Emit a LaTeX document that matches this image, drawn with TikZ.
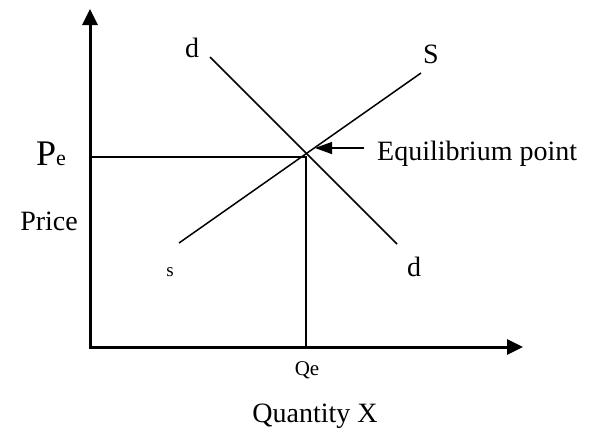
\documentclass[tikz,border=0pt]{standalone}
\usepackage{fontspec}
\setmainfont{Liberation Serif}
\usetikzlibrary{arrows.meta}
\begin{document}
\begin{tikzpicture}[x=1pt,y=-1pt,
  axis/.style={line width=3pt,-{Triangle[length=16pt,width=15pt]}},
  curve/.style={line width=1.5pt},
  guide/.style={line width=1.2pt},
  lbl/.style={inner sep=0pt,font=\fontsize{28}{30}\selectfont},
  small/.style={inner sep=0pt,font=\fontsize{19}{21}\selectfont}]
\useasboundingbox (0,0) rectangle (607,439);
% coordinates
\coordinate (O) at (90,347);
\coordinate (Ytop) at (90,9);
\coordinate (Xend) at (523,347);
\coordinate (pe1) at (91,157);
\coordinate (E) at (306,157);
\coordinate (qe1) at (306,347);
\coordinate (s1) at (179,243);
\coordinate (s2) at (421,73);
\coordinate (d1) at (210,57);
\coordinate (d2) at (397,244);
\coordinate (eqtail) at (364,148);
\coordinate (eqtip) at (315,148);
% axes
\draw[axis] ([yshift=1.5pt]O) -- (Ytop);
\draw[axis] ([xshift=-1.5pt]O) -- (Xend);
% guides
\draw[guide] (pe1) -- (E) -- (qe1);
% curves
\draw[curve] (s1) -- (s2);
\draw[curve] (d1) -- (d2);
% equilibrium arrow
\draw[line width=1.5pt,-{Triangle[length=17pt,width=12pt]}] (eqtail) -- (eqtip);
% labels
\node[lbl,anchor=base west] (eq) at (377,160) {Equilibrium point};
\node[inner sep=0pt,anchor=base west] (pe) at (36,165) {\fontsize{36}{38}\selectfont P\fontsize{22}{24}\selectfont e};
\node[lbl,anchor=base east] (price) at (78,230) {Price};
\node[lbl,anchor=base] (dtop) at (192,57) {d};
\node[lbl,anchor=base] (dbot) at (414,276) {d};
\node[lbl,anchor=base] (S) at (431,63) {S};
\node[small,anchor=base] (slow) at (170,276) {s};
\node[inner sep=0pt,font=\fontsize{21}{23}\selectfont,anchor=base] (qe) at (307,375) {Qe};
\node[lbl,anchor=base] (qx) at (315,422) {Quantity X};
\end{tikzpicture}
\end{document}
